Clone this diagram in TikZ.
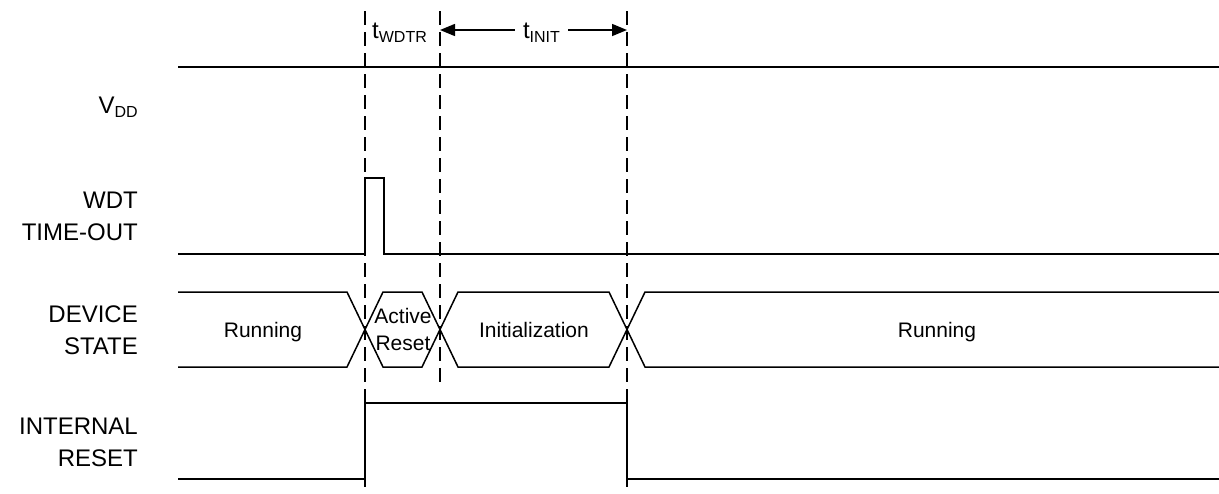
\documentclass[tikz,border=0pt]{standalone}
\usepackage{fontspec}
\setmainfont{Liberation Sans}
\usetikzlibrary{arrows.meta}
\begin{document}
\begin{tikzpicture}[x=1pt,y=-1pt,
  sig/.style={line width=1.5pt, line join=miter},
  guide/.style={line width=1.4pt, dash pattern=on 14pt off 7pt},
  lbl/.style={font=\fontsize{24}{32}\selectfont, align=right, inner sep=0pt},
  st/.style={font=\fontsize{21}{27}\selectfont, align=center, inner sep=0pt},
  tm/.style={font=\fontsize{24}{28}\selectfont, inner sep=0pt},
  tip/.style={-{Triangle[length=15pt,width=12pt]}, line width=1.5pt}
]
\useasboundingbox (0,0) rectangle (1219,493);

% left labels
\node[lbl, anchor=base east] (vdd) at (138,113) {V\raisebox{-4pt}{\fontsize{16}{16}\selectfont DD}};
\node[lbl, anchor=east] (wdt) at (138,216.5) {WDT\\TIME-OUT};
\node[lbl, anchor=east] (dev) at (138,330) {DEVICE\\STATE};
\node[lbl, anchor=east] (ires) at (138,442) {INTERNAL\\RESET};

% guide lines
\coordinate (g1t) at (365,11);  \coordinate (g1b) at (365,493);
\coordinate (g2t) at (440,11);  \coordinate (g2b) at (440,382);
\coordinate (g3t) at (627,11);  \coordinate (g3b) at (627,493);
\draw[guide] (g1t) -- (g1b);
\draw[guide] (g2t) -- (g2b);
\draw[guide] (g3t) -- (g3b);

% timing labels
\node[tm, anchor=base west] (twdtr) at (372,38) {t\raisebox{-4pt}{\fontsize{16}{16}\selectfont WDTR}};
\node[tm, anchor=base, inner xsep=8pt] (tinit) at (541.5,38) {t\raisebox{-4pt}{\fontsize{16}{16}\selectfont INIT}};
\coordinate (aL) at (440,30);
\coordinate (aR) at (627,30);
\draw[tip] (tinit.west |- aL) -- (aL);
\draw[tip] (tinit.east |- aR) -- (aR);

% VDD
\coordinate (v0) at (178,67); \coordinate (v1) at (1219,67);
\draw[sig] (v0) -- (v1);

% WDT time-out
\coordinate (w0) at (178,254);
\coordinate (w1) at (365,254);
\coordinate (w2) at (365,178);
\coordinate (w3) at (384,178);
\coordinate (w4) at (384,254);
\coordinate (w5) at (1219,254);
\draw[sig] (w0) -- (w1) -- (w2) -- (w3) -- (w4) -- (w5);

% device state bus
\draw[sig] (178,292) -- (347,292) -- (383,367) -- (422,367) -- (458,292) -- (609,292) -- (645,367) -- (1219,367);
\draw[sig] (178,367) -- (347,367) -- (383,292) -- (422,292) -- (458,367) -- (609,367) -- (645,292) -- (1219,292);
\node[st, anchor=base] (run1) at (263,337) {Running};
\node[st] (act) at (403,329) {Active\\Reset};
\node[st, anchor=base] (init) at (534,337) {Initialization};
\node[st, anchor=base] (run2) at (937,337) {Running};

% internal reset
\coordinate (r0) at (178,479);
\coordinate (r1) at (365,479);
\coordinate (r2) at (365,403);
\coordinate (r3) at (627,403);
\coordinate (r4) at (627,479);
\coordinate (r5) at (1219,479);
\draw[sig] (r0) -- (r1) -- (r2) -- (r3) -- (r4) -- (r5);
\end{tikzpicture}
\end{document}
